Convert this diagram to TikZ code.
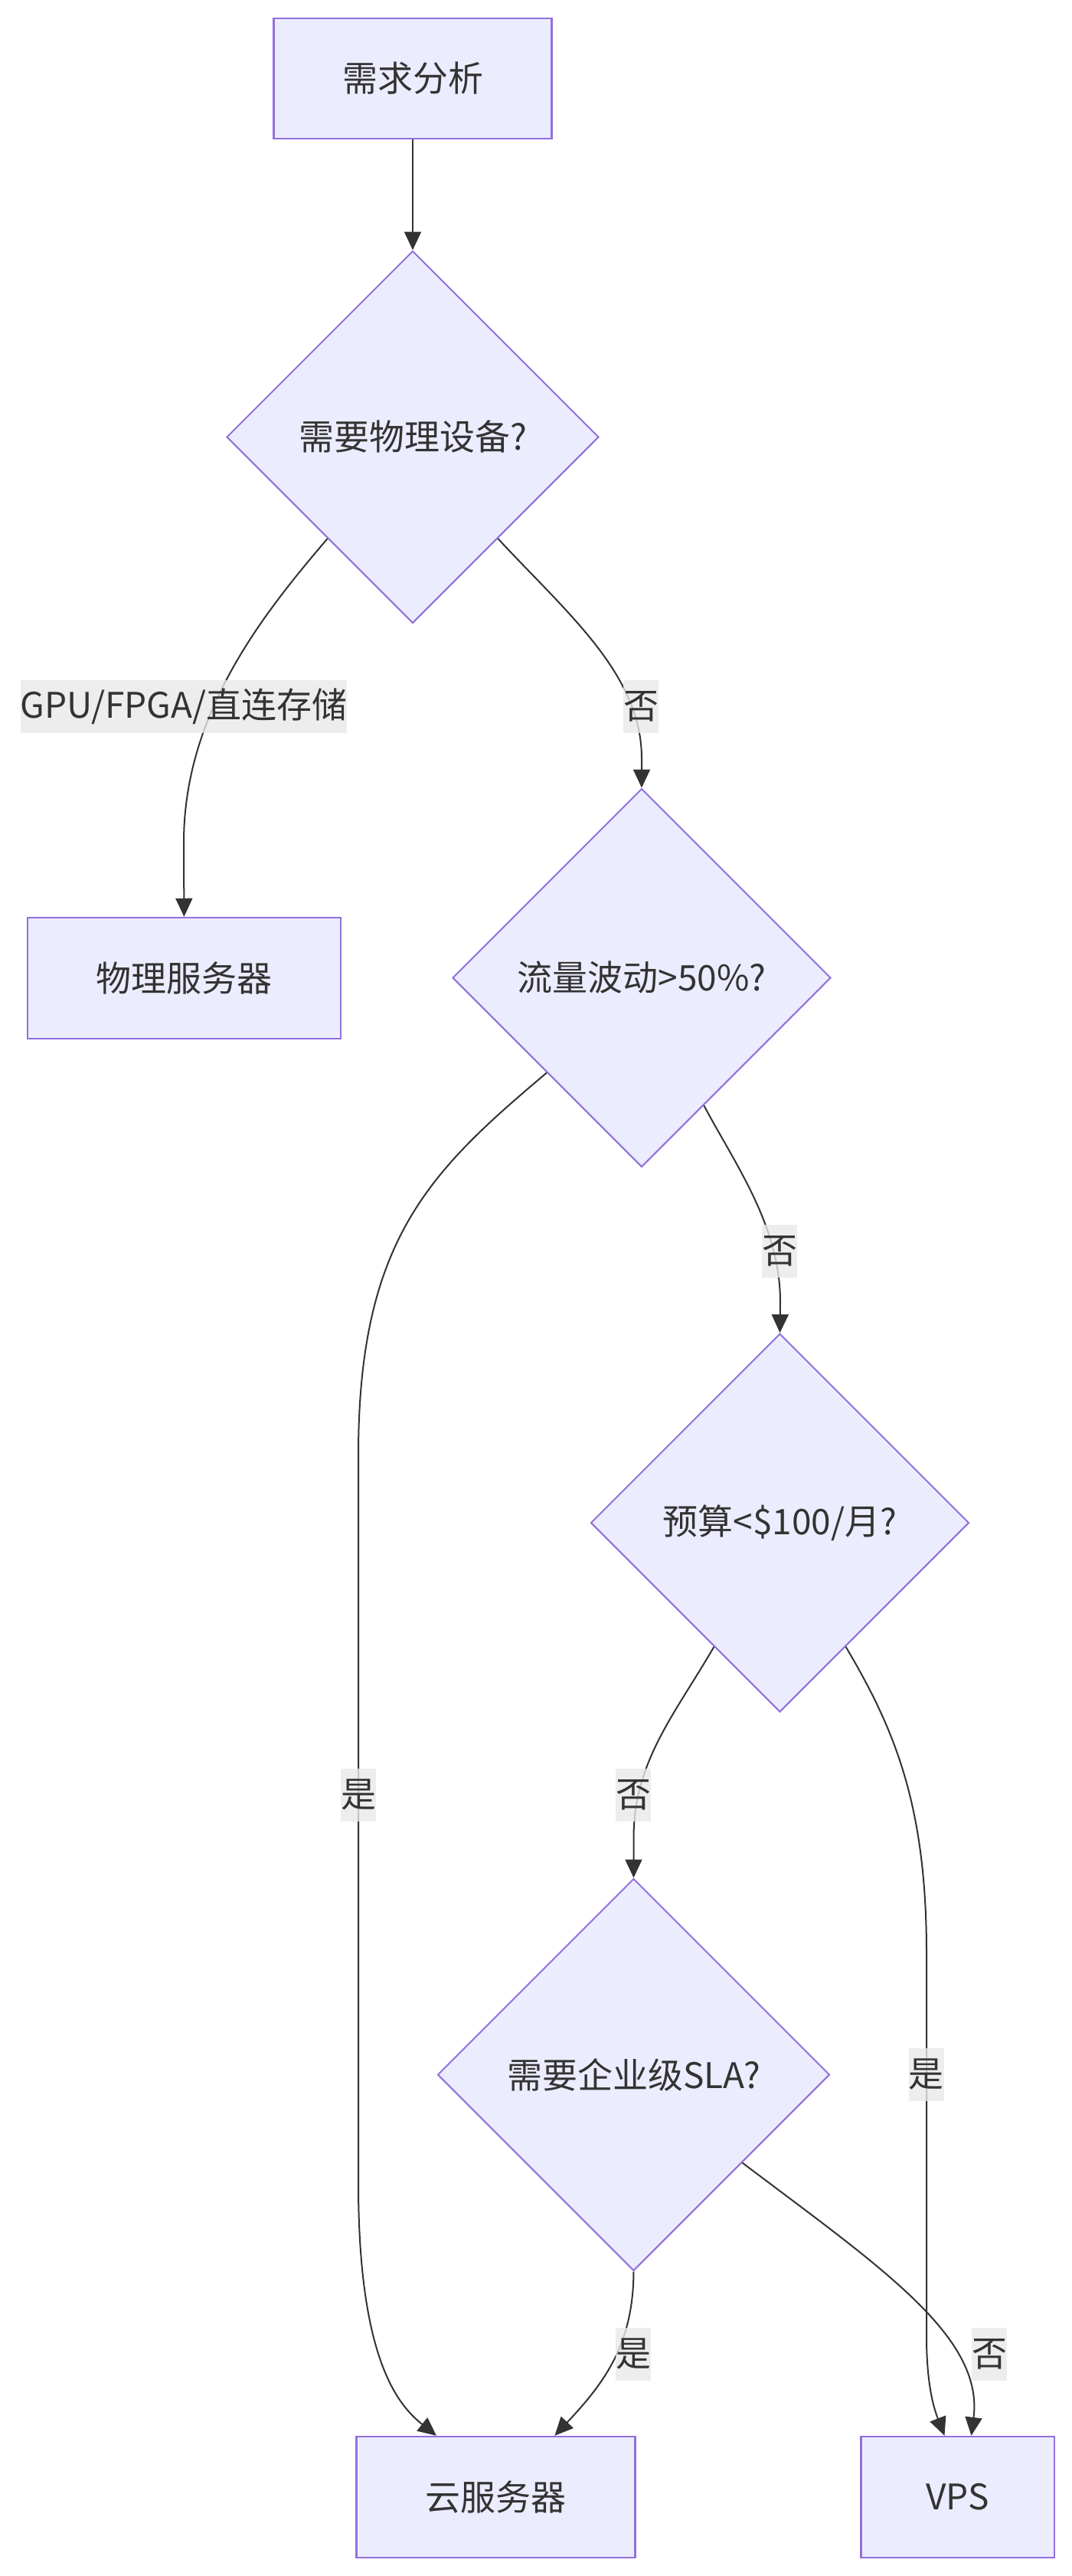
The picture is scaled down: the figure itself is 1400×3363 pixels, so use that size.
\documentclass[tikz,border=0pt]{standalone}
\usepackage{fontspec}
\setmainfont{Noto Sans CJK SC}
\usetikzlibrary{shapes.geometric,arrows.meta,calc}
\definecolor{nodefill}{HTML}{ECECFF}
\definecolor{nodeline}{HTML}{9370DB}
\definecolor{edgecol}{HTML}{333333}
\definecolor{lblfill}{HTML}{E8E8E8}
\begin{document}
\begin{tikzpicture}[x=1pt,y=-1pt,
  every node/.style={font=\fontsize{46}{55}\selectfont, text=edgecol},
  procbox/.style={draw=nodeline, fill=nodefill, line width=2.5pt, rectangle, inner sep=0pt},
  decision/.style={draw=nodeline, fill=nodefill, line width=2pt, diamond, aspect=1, inner sep=0pt},
  conn/.style={draw=edgecol, line width=2pt, -{Triangle[length=24pt,width=22pt]}},
  elabel/.style={fill=lblfill, fill opacity=0.8, text opacity=1, inner xsep=0pt, inner ysep=0pt, minimum height=69pt},
]
\useasboundingbox (0,0) rectangle (1400,3363);
% nodes
\node[procbox, minimum width=363pt, minimum height=157pt] (A) at (539,102.5) {需求分析};
\node[decision, minimum width=486pt, minimum height=486pt] (B) at (539,570.5) {需要物理设备?};
\node[procbox, minimum width=409pt, minimum height=158pt] (C) at (240.4,1277) {物理服务器};
\node[decision, minimum width=494pt, minimum height=494pt] (D) at (838,1276.5) {流量波动>50\%?};
\node[decision, minimum width=494pt, minimum height=494pt] (E) at (1018.5,1988) {预算<\$100/月?};
\node[decision, minimum width=512pt, minimum height=512pt] (F) at (827.5,2708.5) {需要企业级SLA?};
\node[procbox, minimum width=364pt, minimum height=158pt] (G) at (647.6,3260) {云服务器};
\node[procbox, minimum width=252.5pt, minimum height=158pt] (H) at (1250.5,3260) {VPS};
% connectors
\draw[conn] (A) -- (B);
\draw[conn] (B.230.3) .. controls (345,800) and (240,930) .. (240,1100) -- (C.north);
\draw[conn] (B.310.4) .. controls (740,800) and (838,880) .. (838,990) -- (D.north);
\draw[conn] (D.225.3) .. controls (560,1530) and (468,1620) .. (468,1900) -- (468,2850) .. controls (468,3080) and (520,3140) .. ([xshift=-77.6pt]G.north);
\draw[conn] (D.296.9) .. controls (960,1520) and (1019,1600) .. (1019,1700) -- (E.north);
\draw[conn] (E.242.2) .. controls (880,2240) and (827.5,2300) .. (827.5,2400) -- (F.north);
\draw[conn] (E.298.1) .. controls (1170,2260) and (1210,2360) .. (1210,2550) -- (1210,3050) .. controls (1210,3120) and (1222,3150) .. ([xshift=-17pt]H.north);
\draw[conn] (F.321.7) .. controls (1150,2960) and (1285,3050) .. ([xshift=18pt]H.north);
\draw[conn] (F.south) .. controls (827,3060) and (790,3110) .. ([xshift=76.8pt]G.north);
% edge labels
\node[elabel] (l1) at (240,922) {GPU/FPGA/直连存储};
\node[elabel] (l2) at (837,922) {否};
\node[elabel] (l3) at (1018,1633) {否};
\node[elabel] (l4) at (468,2343) {是};
\node[elabel] (l5) at (827,2343) {否};
\node[elabel] (l6) at (1209.5,2708) {是};
\node[elabel] (l7) at (827,3073) {是};
\node[elabel] (l8) at (1292,3073) {否};
\end{tikzpicture}
\end{document}
